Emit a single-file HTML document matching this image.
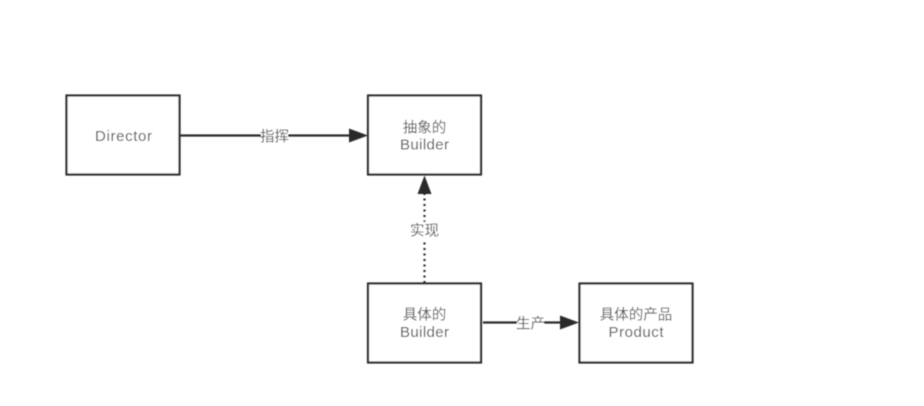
<!DOCTYPE html>
<html>
<head>
<meta charset="utf-8">
<style>
html,body{margin:0;padding:0;background:#fff;width:924px;height:406px;overflow:hidden}
svg{display:block}
text{font-family:"Liberation Sans","Noto Sans CJK SC",sans-serif;font-size:14.5px;fill:#555;text-anchor:middle}
.l{font-size:15px}
</style>
</head>
<body>
<svg width="924" height="406" viewBox="0 0 924 406" xmlns="http://www.w3.org/2000/svg">
<defs><filter id="b" x="-5%" y="-5%" width="110%" height="110%"><feGaussianBlur stdDeviation="0.4"/></filter></defs>
<g filter="url(#b)">
<g fill="#fff" stroke="#2a2a2a" stroke-width="2.2">
<rect x="66.5" y="95.5" width="113" height="79"/>
<rect x="368" y="95.5" width="113" height="79"/>
<rect x="368" y="283.5" width="113" height="79"/>
<rect x="579.5" y="283.5" width="113" height="79"/>
</g>
<line x1="180" y1="135.5" x2="352" y2="135.5" stroke="#2a2a2a" stroke-width="2.2"/>
<polygon points="349,128.5 368,135.5 349,142.5" fill="#2a2a2a"/>
<line x1="424.5" y1="283" x2="424.5" y2="193" stroke="#2a2a2a" stroke-width="2.2" stroke-dasharray="2 3.5"/>
<polygon points="417.5,194 424.5,175.5 431.5,194" fill="#2a2a2a"/>
<line x1="483" y1="322.5" x2="563" y2="322.5" stroke="#2a2a2a" stroke-width="2.2"/>
<polygon points="560,315.5 579,322.5 560,329.5" fill="#2a2a2a"/>
<rect x="261" y="127" width="27" height="18" fill="#fff"/>
<rect x="410" y="222" width="29" height="17" fill="#fff"/>
<rect x="517" y="314" width="27" height="18" fill="#fff"/>
<text class="l" x="123.5" y="141" textLength="57" lengthAdjust="spacing">Director</text>
<text x="274.5" y="141.5">指挥</text>
<text x="424.5" y="132.5">抽象的</text>
<text class="l" x="424.5" y="149.5" textLength="49" lengthAdjust="spacing">Builder</text>
<text x="424.5" y="235.5">实现</text>
<text x="424.5" y="319.5">具体的</text>
<text class="l" x="424.5" y="337" textLength="49" lengthAdjust="spacing">Builder</text>
<text x="530.5" y="328.5">生产</text>
<text x="636" y="319.5">具体的产品</text>
<text class="l" x="636" y="337" textLength="55" lengthAdjust="spacing">Product</text>
</g>
</svg>
</body>
</html>
